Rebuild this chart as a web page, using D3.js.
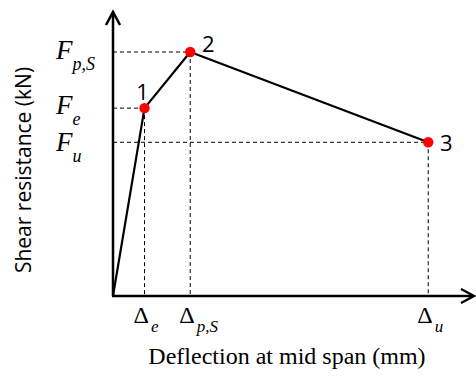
<!DOCTYPE html>
<html>
<head>
<meta charset="utf-8">
<script src="https://cdn.jsdelivr.net/npm/d3@7"></script>
<style>
  html, body { margin: 0; padding: 0; background: #fff; }
  svg { display: block; }
</style>
</head>
<body>
<svg id="chart" width="476" height="385"></svg>
<script>
// Idealised trilinear shear–deflection curve
const pointIds   = ["1", "2", "3"];
const deflection = [2.0, 4.9, 20.0];     // Δe, Δp,S, Δu (mm)
const resistance = [77, 100, 63];        // Fe, Fp,S, Fu (kN)
const forceSubs  = ["e", "p,S", "u"];
const deflSubs   = ["e", "p,S", "u"];

const svg = d3.select("#chart");
const ox = 113, oy = 296;

const x = d3.scaleLinear().domain([0, 22.65]).range([ox, 470]);
const y = d3.scaleLinear().domain([0, 116.4]).range([oy, 12]);

const black = "#000";

// dashed guide lines from each point to both axes
const guides = svg.append("g")
  .attr("stroke", black).attr("stroke-width", 1)
  .attr("stroke-dasharray", "4,3").attr("fill", "none");
deflection.forEach((d, i) => {
  guides.append("line")
    .attr("x1", x(0)).attr("x2", x(d))
    .attr("y1", y(resistance[i])).attr("y2", y(resistance[i]));
  guides.append("line")
    .attr("x1", x(d)).attr("x2", x(d))
    .attr("y1", y(resistance[i])).attr("y2", y(0));
});

// axes with open arrowheads
const axes = svg.append("g")
  .attr("stroke", black).attr("stroke-width", 2.5).attr("fill", "none")
  .attr("stroke-linecap", "butt");
axes.append("line").attr("x1", x(0)).attr("y1", y(0)).attr("x2", x(0)).attr("y2", y.range()[1] + 1);
axes.append("line").attr("x1", x(0) - 1).attr("y1", y(0)).attr("x2", x.range()[1] + 3).attr("y2", y(0));
axes.append("path")
  .attr("d", `M${x(0) - 7},${y.range()[1] + 13} L${x(0)},${y.range()[1]} L${x(0) + 7},${y.range()[1] + 13}`)
  .attr("stroke-linejoin", "miter");
axes.append("path")
  .attr("d", `M${x.range()[1] - 9},${y(0) - 7} L${x.range()[1] + 4},${y(0)} L${x.range()[1] - 9},${y(0) + 7}`)
  .attr("stroke-linejoin", "miter");

// curve
const curve = [[0, 0]].concat(deflection.map((d, i) => [d, resistance[i]]));
svg.append("path")
  .datum(curve)
  .attr("fill", "none").attr("stroke", black).attr("stroke-width", 2.2)
  .attr("stroke-linejoin", "round")
  .attr("d", d3.line().x(d => x(d[0])).y(d => y(d[1])));

// characteristic points
svg.append("g").selectAll("circle")
  .data(deflection)
  .join("circle")
  .attr("cx", d => x(d))
  .attr("cy", (d, i) => y(resistance[i]))
  .attr("r", 5.2)
  .attr("fill", "#ff0000");

// point numbers
const numOffsets = [[-2, -8], [18, 0], [18, 9]];
svg.append("g").selectAll("text")
  .data(pointIds)
  .join("text")
  .attr("x", (d, i) => x(deflection[i]) + numOffsets[i][0])
  .attr("y", (d, i) => y(resistance[i]) + numOffsets[i][1])
  .attr("text-anchor", "middle")
  .attr("font-family", "'Open Sans', sans-serif")
  .attr("font-size", 22)
  .attr("fill", black)
  .text(d => d);

// force labels on the vertical axis
const fLabels = svg.append("g")
  .attr("font-family", "'Liberation Serif', 'Times New Roman', serif")
  .attr("font-style", "italic").attr("fill", black);
const fBaseShift = [6, 7, 9];
resistance.forEach((r, i) => {
  const t = fLabels.append("text")
    .attr("x", 56)
    .attr("y", y(r) + fBaseShift[i])
    .attr("font-size", 27);
  t.append("tspan").text("F");
  t.append("tspan").attr("font-size", 18).attr("dy", 11).attr("dx", 0).text(forceSubs[i]);
});

// deflection labels below the horizontal axis
const dLabels = svg.append("g")
  .attr("font-family", "'Liberation Serif', 'Times New Roman', serif")
  .attr("fill", black);
deflection.forEach((d, i) => {
  const t = dLabels.append("text")
    .attr("x", x(d) - 11)
    .attr("y", 323)
    .attr("font-size", 24);
  t.append("tspan").text("Δ");
  t.append("tspan").attr("font-size", 17).attr("font-style", "italic")
    .attr("dy", 9).attr("dx", 2).text(deflSubs[i]);
});

// axis titles
svg.append("text")
  .attr("x", 287).attr("y", 364)
  .attr("text-anchor", "middle")
  .attr("font-family", "'Liberation Serif', 'Times New Roman', serif")
  .attr("font-size", 24)
  .attr("fill", black)
  .text("Deflection at mid span (mm)");

svg.append("text")
  .attr("transform", "translate(31,170) rotate(-90)")
  .attr("text-anchor", "middle")
  .attr("font-family", "'Open Sans', sans-serif")
  .attr("font-size", 21)
  .attr("fill", black)
  .text("Shear resistance (kN)");
</script>
</body>
</html>
